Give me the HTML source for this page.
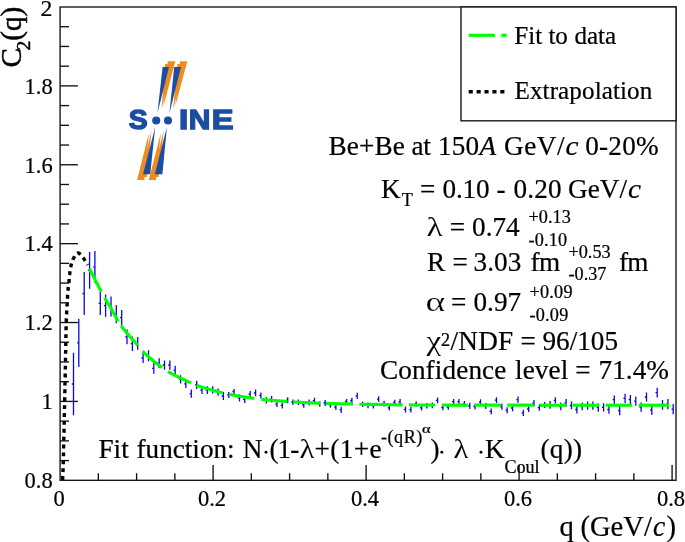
<!DOCTYPE html>
<html><head><meta charset="utf-8"><title>C2(q)</title>
<style>
html,body{margin:0;padding:0;background:#fff;}
body{width:685px;height:542px;overflow:hidden;}
svg{display:block;will-change:transform;}
text{font-family:"Liberation Serif",serif;fill:#000;stroke:#000;stroke-width:0.22px;}
.t{font-size:27.2px;}
.s{font-size:18.2px;}
.ss{font-size:12.2px;}
.ti{font-size:28.6px;}
.lg{font-size:25.1px;}
.it{font-style:italic;}
.ax text{font-size:22.5px;}
.logo text{font-family:"Liberation Sans",sans-serif;font-weight:bold;fill:#1b4ea2;stroke:#1b4ea2;stroke-width:1.35px;}
</style></head><body>
<svg width="685" height="542" viewBox="0 0 685 542">
<rect width="685" height="542" fill="#fff"/>
<!-- error bars -->
<path d="M73.5 352.8V415.2M71.8 384.0h1.7M78.8 318.7V367.0M77.1 342.9h1.7M84.2 272.0V315.0M82.5 293.5h1.7M89.6 252.0V288.7M87.9 270.4h1.7M94.9 250.9V282.6M93.2 266.8h1.7M100.3 291.8V315.0M98.6 303.4h1.7M105.6 294.6V316.8M103.9 305.7h1.7M111.0 296.6V316.6M109.3 306.6h1.7M116.3 305.0V323.2M114.6 314.1h1.7M121.7 310.0V325.4M120.0 317.7h1.7M127.0 329.4V344.2M125.3 336.8h1.7M132.4 336.5V350.9M130.7 343.7h1.7M137.7 337.0V349.8M136.0 343.4h1.7M143.1 353.0V363.0M141.4 358.0h1.7M148.5 350.2V361.3M146.8 355.8h1.7M153.8 363.0V373.7M152.1 368.4h1.7M159.2 358.2V368.0M157.5 363.1h1.7M164.5 360.4V369.7M162.8 365.0h1.7M169.9 360.4V369.7M168.2 365.0h1.7M175.2 365.7V374.6M173.5 370.1h1.7M180.6 375.2V383.4M178.9 379.3h1.7M185.9 379.7V387.9M184.2 383.8h1.7M191.3 389.6V397.8M189.6 393.7h1.7M196.7 380.8V389.0M195.0 384.9h1.7M202.0 386.3V394.0M200.3 390.1h1.7M207.4 386.3V394.0M205.7 390.1h1.7M212.7 386.3V393.6M211.0 390.0h1.7M218.1 388.5V395.8M216.4 392.1h1.7M223.4 392.0V400.0M221.7 396.0h1.7M228.8 391.9V398.0M227.1 394.9h1.7M234.1 388.9V394.2M232.4 391.5h1.7M239.5 394.5V401.5M237.8 398.0h1.7M244.8 396.3V403.0M243.1 399.6h1.7M250.2 391.0V397.2M248.5 394.1h1.7M255.6 389.6V396.3M253.9 393.0h1.7M260.9 392.4V398.4M259.2 395.4h1.7M266.3 397.2V403.6M264.6 400.4h1.7M271.6 396.0V402.4M269.9 399.2h1.7M277.0 401.2V407.1M275.3 404.1h1.7M282.3 402.4V408.5M280.6 405.4h1.7M287.7 397.2V403.3M286.0 400.2h1.7M293.0 399.4V405.0M291.3 402.2h1.7M298.4 399.4V405.0M296.7 402.2h1.7M303.8 402.0V407.7M302.1 404.9h1.7M309.1 399.4V405.4M307.4 402.4h1.7M314.5 397.7V403.6M312.8 400.6h1.7M319.8 401.2V406.8M318.1 404.0h1.7M325.2 400.1V405.9M323.5 403.0h1.7M330.5 401.9V407.7M328.8 404.8h1.7M335.9 404.2V410.0M334.2 407.1h1.7M341.2 406.8V412.9M339.5 409.9h1.7M346.6 398.9V404.2M344.9 401.5h1.7M351.9 397.7V403.3M350.2 400.5h1.7M357.3 392.8V398.9M355.6 395.9h1.7M362.7 401.5V407.1M361.0 404.3h1.7M368.0 402.4V408.2M366.3 405.3h1.7M373.4 402.9V408.5M371.7 405.7h1.7M378.7 396.3V402.1M377.0 399.2h1.7M384.1 400.7V406.4M382.4 403.5h1.7M389.4 405.0V410.6M387.7 407.8h1.7M394.8 399.8V405.0M393.1 402.4h1.7M400.1 398.9V404.7M398.4 401.8h1.7M405.5 406.4V412.4M403.8 409.4h1.7M410.9 406.8V412.4M409.2 409.6h1.7M416.2 401.2V406.8M414.5 404.0h1.7M421.6 405.0V410.6M419.9 407.8h1.7M426.9 402.9V408.5M425.2 405.7h1.7M432.3 402.4V408.2M430.6 405.3h1.7M437.6 397.4V403.2M435.9 400.3h1.7M443.0 404.7V410.3M441.3 407.5h1.7M448.3 404.2V409.8M446.6 407.0h1.7M453.7 398.9V404.5M452.0 401.7h1.7M459.0 398.9V404.5M457.3 401.7h1.7M464.4 401.0V406.6M462.7 403.8h1.7M469.8 402.8V408.9M468.1 405.9h1.7M475.1 403.7V409.4M473.4 406.5h1.7M480.5 399.3V404.9M478.8 402.1h1.7M485.8 403.1V408.9M484.1 406.0h1.7M491.2 408.4V414.2M489.5 411.3h1.7M496.5 397.2V403.1M494.8 400.1h1.7M501.9 403.7V409.8M500.2 406.8h1.7M507.2 407.2V413.3M505.5 410.2h1.7M512.6 404.9V411.2M510.9 408.0h1.7M518.0 396.6V402.8M516.3 399.7h1.7M523.3 409.8V415.9M521.6 412.9h1.7M528.7 405.9V412.1M527.0 409.0h1.7M534.0 400.1V406.3M532.3 403.2h1.7M539.4 404.5V410.7M537.7 407.6h1.7M544.7 401.9V408.0M543.0 404.9h1.7M550.1 401.0V408.8M548.4 404.9h1.7M555.4 397.2V403.6M553.7 400.4h1.7M560.8 402.6V410.2M559.1 406.4h1.7M566.1 399.1V406.7M564.4 402.9h1.7M571.5 401.6V409.3M569.8 405.5h1.7M576.9 405.7V413.4M575.2 409.5h1.7M582.2 402.6V410.2M580.5 406.4h1.7M587.6 401.6V409.7M585.9 405.6h1.7M592.9 401.6V409.7M591.2 405.6h1.7M598.3 403.6V411.8M596.6 407.7h1.7M603.6 403.2V411.4M601.9 407.3h1.7M609.0 405.2V413.8M607.3 409.5h1.7M614.3 395.4V404.0M612.6 399.7h1.7M619.7 406.1V415.3M618.0 410.7h1.7M625.1 393.8V403.0M623.4 398.4h1.7M630.4 395.0V404.0M628.7 399.5h1.7M635.8 396.5V405.7M634.1 401.1h1.7M641.1 402.6V411.8M639.4 407.2h1.7M646.5 392.4V401.6M644.8 397.0h1.7M651.8 405.2V414.9M650.1 410.0h1.7M657.2 387.7V397.5M655.5 392.6h1.7M662.5 399.9V409.7M660.8 404.8h1.7M667.9 399.1V409.3M666.2 404.2h1.7M673.2 404.0V414.2M671.5 409.1h1.7" stroke="#0808e6" stroke-width="1.3" fill="none"/>
<!-- fit -->
<g fill="none" stroke="#00ff00" stroke-width="3.15">
<polyline points="89.5,268.7 89.9,269.5 90.3,270.2 90.7,271.0 91.1,271.8 91.5,272.6 91.9,273.4 92.3,274.2 92.7,275.0 93.1,275.8 93.5,276.6 93.9,277.4 94.3,278.2 94.7,279.0 95.1,279.8 95.5,280.6 95.9,281.4 96.3,282.2 96.7,283.0 97.1,283.7 97.6,284.5 98.0,285.3 98.4,286.1 98.8,286.9 99.2,287.7 99.6,288.5 100.1,289.3 100.5,290.0 100.9,290.8 101.3,291.6"/>
<polyline points="104.6,297.6 105.1,298.4 105.5,299.2 106.0,299.9 106.4,300.7 106.9,301.5 107.4,302.2 107.8,303.0 108.3,303.7 108.7,304.5 109.2,305.3 109.7,306.0 110.1,306.8 110.6,307.6 111.0,308.3 111.4,309.1 111.9,309.9 112.3,310.7 112.8,311.5 113.2,312.2 113.6,313.0 114.0,313.8 114.5,314.6 114.9,315.4 115.3,316.2 115.8,316.9 116.2,317.7 116.6,318.5 117.1,319.3 117.5,320.0 118.0,320.8 118.2,321.2"/>
<polyline points="121.1,325.6 121.6,326.3 122.1,327.1 122.6,327.8 123.2,328.5 123.7,329.2 124.3,329.9 124.8,330.5 125.4,331.2 125.9,331.9 126.5,332.6 127.1,333.3 127.7,333.9 128.3,334.6 128.9,335.3 129.4,336.0 130.0,336.6 130.6,337.3 131.2,338.0 131.8,338.6 132.4,339.3 133.0,340.0 133.6,340.6 134.2,341.3 134.8,342.0 135.4,342.6 136.0,343.3 136.6,344.0 137.1,344.6 137.7,345.3"/>
<polyline points="142.6,351.1 143.2,351.7 143.8,352.4 144.5,353.0 145.1,353.6 145.7,354.2 146.4,354.8 147.0,355.4 147.7,356.0 148.4,356.6 149.0,357.2 149.7,357.8 150.4,358.4 151.1,358.9 151.8,359.5 152.4,360.1 153.1,360.6 153.8,361.2 154.5,361.8 155.2,362.3 155.9,362.9 156.6,363.4 157.3,364.0 158.1,364.5 158.8,365.1 159.5,365.6 160.2,366.1 160.9,366.7 161.6,367.2 162.1,367.6"/>
<polyline points="168.0,371.6 168.8,372.1 169.5,372.5 170.3,372.9 171.1,373.4 171.9,373.8 172.6,374.2 173.4,374.6 174.2,375.0 175.0,375.4 175.8,375.8 176.6,376.2 177.4,376.6 178.2,377.0 179.0,377.4 179.8,377.8 180.6,378.1 181.4,378.5 182.2,378.9 183.1,379.3 183.9,379.6 184.7,380.0 185.5,380.4 186.3,380.8 187.1,381.1 187.9,381.5 188.7,381.9 189.5,382.2 190.4,382.6 191.0,382.9"/>
<polyline points="196.5,385.3 197.3,385.6 198.1,385.9 199.0,386.1 199.8,386.4 200.7,386.7 201.5,387.0 202.3,387.3 203.2,387.5 204.0,387.8 204.9,388.0 205.7,388.3 206.6,388.5 207.4,388.8 208.3,389.0 209.2,389.3 210.0,389.5 210.9,389.8 211.7,390.0 212.6,390.2 213.5,390.5 214.3,390.7 215.2,390.9 216.1,391.1 216.9,391.4 217.8,391.6 218.6,391.8 219.5,392.0 220.4,392.3 221.2,392.5 222.1,392.7 223.0,392.9"/>
<polyline points="229.0,394.3 229.9,394.5 230.8,394.7 231.6,394.8 232.5,395.0 233.4,395.2 234.2,395.3 235.1,395.5 236.0,395.6 236.9,395.8 237.8,395.9 238.6,396.1 239.5,396.2 240.4,396.4 241.3,396.5 242.1,396.6 243.0,396.8 243.9,396.9 244.8,397.0 245.7,397.2 246.5,397.3 247.4,397.4 248.3,397.6 249.2,397.7 250.1,397.8 251.0,397.9 251.8,398.1 252.7,398.2 253.6,398.3 254.3,398.4"/>
<polyline points="261.3,399.3 262.2,399.4 263.1,399.5 264.0,399.6 264.8,399.7 265.7,399.8 266.6,399.8 267.5,399.9 268.4,400.0 269.3,400.1 270.2,400.2 271.0,400.2 271.9,400.3 272.8,400.4 273.7,400.5 274.6,400.5 275.5,400.6 276.4,400.7 277.3,400.7 278.1,400.8 279.0,400.9 279.9,400.9 280.8,401.0 281.7,401.1 282.6,401.1 283.5,401.2 284.3,401.3 285.2,401.3 286.1,401.4 287.0,401.5 287.5,401.5"/>
<polyline points="293.2,401.9 294.1,402.0 295.0,402.0 295.9,402.1 296.8,402.1 297.7,402.2 298.5,402.2 299.4,402.3 300.3,402.3 301.2,402.4 302.1,402.4 303.0,402.5 303.9,402.5 304.8,402.5 305.6,402.6 306.5,402.6 307.4,402.7 308.3,402.7 309.2,402.8 310.1,402.8 311.0,402.8 311.9,402.9 312.8,402.9 313.6,403.0 314.5,403.0 315.4,403.0 316.3,403.1 317.2,403.1 318.1,403.1 319.0,403.2 319.9,403.2 320.1,403.2"/>
<polyline points="326.1,403.4 327.0,403.4 327.9,403.4 328.8,403.5 329.6,403.5 330.5,403.5 331.4,403.5 332.3,403.6 333.2,403.6 334.1,403.6 335.0,403.6 335.9,403.6 336.8,403.7 337.6,403.7 338.5,403.7 339.4,403.7 340.3,403.7 341.2,403.8 342.1,403.8 343.0,403.8 343.9,403.8 344.8,403.8 345.6,403.9 346.5,403.9 347.4,403.9 348.3,403.9 349.2,403.9 350.1,403.9 351.0,404.0 351.9,404.0 352.8,404.0 353.0,404.0"/>
<polyline points="359.4,404.1 360.3,404.2 361.2,404.2 362.1,404.2 363.0,404.2 363.9,404.2 364.8,404.2 365.7,404.3 366.5,404.3 367.4,404.3 368.3,404.3 369.2,404.3 370.1,404.3 371.0,404.4 371.9,404.4 372.8,404.4 373.7,404.4 374.5,404.4 375.4,404.4 376.3,404.4 377.2,404.5 378.1,404.5 379.0,404.5 379.9,404.5 380.8,404.5 381.7,404.5 382.5,404.5 383.4,404.6 384.3,404.6 385.2,404.6 386.1,404.6 387.0,404.6 387.9,404.6 388.8,404.6 389.7,404.7 390.5,404.7 391.4,404.7 392.3,404.7 393.2,404.7 394.1,404.7 395.0,404.7 395.9,404.8 396.8,404.8 397.7,404.8 398.5,404.8 399.4,404.8 400.3,404.8 401.2,404.8 402.1,404.8 402.6,404.8"/>
<polyline points="409.0,404.9 409.9,404.9 410.8,404.9 411.7,405.0 412.6,405.0 413.4,405.0 414.3,405.0 415.2,405.0 416.1,405.0 417.0,405.0 417.9,405.0 418.8,405.0 419.7,405.0 420.6,405.0 421.4,405.0 422.3,405.0 423.2,405.0 424.1,405.0 425.0,405.0 425.9,405.0 426.8,405.0 427.7,405.0 428.6,405.0 429.5,405.0 430.3,405.0 431.2,405.0 432.1,405.0 433.0,405.0 433.9,405.0 434.8,405.0 435.0,405.0"/>
<polyline points="442.1,405.0 443.0,405.0 443.9,405.0 444.8,405.0 445.7,405.0 446.6,405.0 447.5,405.0 448.3,405.1 449.2,405.1 450.1,405.1 451.0,405.1 451.9,405.1 452.8,405.1 453.7,405.1 454.6,405.1 455.5,405.1 456.4,405.1 457.2,405.1 458.1,405.1 459.0,405.1 459.9,405.1 460.8,405.1 461.7,405.1 462.6,405.1 463.5,405.1 464.4,405.1 465.2,405.1 466.1,405.1 467.0,405.1 467.9,405.1"/>
<polyline points="474.6,405.1 475.5,405.1 476.4,405.1 477.2,405.1 478.1,405.1 479.0,405.1 479.9,405.1 480.8,405.1 481.7,405.1 482.6,405.1 483.5,405.1 484.4,405.1 485.3,405.1 486.1,405.1 487.0,405.1 487.9,405.1 488.8,405.1 489.7,405.1 490.6,405.1 491.5,405.1 492.4,405.1 493.3,405.1 494.1,405.1 495.0,405.1 495.9,405.1 496.8,405.1 497.7,405.1 498.6,405.1 499.5,405.1 500.4,405.1 501.3,405.1"/>
<polyline points="507.3,405.1 508.2,405.1 509.0,405.1 509.9,405.1 510.8,405.1 511.7,405.1 512.6,405.1 513.5,405.1 514.4,405.1 515.3,405.1 516.2,405.1 517.0,405.1 517.9,405.1 518.8,405.1 519.7,405.1 520.6,405.1 521.5,405.1 522.4,405.1 523.3,405.1 524.2,405.1 525.0,405.1 525.9,405.1 526.8,405.1 527.7,405.1 528.6,405.1 529.5,405.1 530.4,405.1 531.3,405.1 532.2,405.1 533.1,405.1 533.7,405.1"/>
<polyline points="539.7,405.2 540.6,405.2 541.5,405.2 542.4,405.2 543.3,405.2 544.2,405.2 545.1,405.2 545.9,405.2 546.8,405.2 547.7,405.2 548.6,405.2 549.5,405.2 550.4,405.2 551.3,405.2 552.2,405.2 553.1,405.2 553.9,405.2 554.8,405.2 555.7,405.2 556.6,405.2 557.5,405.2 558.4,405.2 559.3,405.2 560.2,405.2 561.1,405.2 562.0,405.2 562.8,405.2 563.7,405.2 564.6,405.2 565.5,405.2 566.4,405.2 566.6,405.2"/>
<polyline points="572.6,405.2 573.5,405.2 574.4,405.2 575.3,405.2 576.2,405.2 577.1,405.2 578.0,405.2 578.8,405.2 579.7,405.2 580.6,405.2 581.5,405.2 582.4,405.2 583.3,405.2 584.2,405.2 585.1,405.2 586.0,405.2 586.9,405.2 587.7,405.2 588.6,405.2 589.5,405.2 590.4,405.2 591.3,405.2 592.2,405.2 593.1,405.2 594.0,405.2 594.9,405.2 595.7,405.2 596.6,405.2 597.5,405.2 598.4,405.2 599.3,405.2"/>
<polyline points="605.7,405.2 606.6,405.2 607.5,405.2 608.4,405.2 609.3,405.2 610.2,405.2 611.1,405.2 612.0,405.2 612.9,405.2 613.8,405.2 614.6,405.2 615.5,405.2 616.4,405.2 617.3,405.2 618.2,405.2 619.1,405.2 620.0,405.2 620.9,405.2 621.8,405.2 622.6,405.2 623.5,405.2 624.4,405.2 625.3,405.2 626.2,405.2 627.1,405.2 628.0,405.2 628.9,405.2 629.8,405.2 630.6,405.2 631.5,405.2 632.0,405.2"/>
<polyline points="638.7,405.2 639.5,405.2 640.4,405.2 641.3,405.2 642.2,405.2 643.1,405.2 644.0,405.2 644.9,405.2 645.8,405.2 646.7,405.2 647.5,405.2 648.4,405.2 649.3,405.2 650.2,405.2 651.1,405.2 652.0,405.2 652.9,405.2 653.8,405.2 654.7,405.2 655.5,405.2 656.4,405.2 657.3,405.2 658.2,405.2 659.1,405.2 660.0,405.2 660.9,405.2 661.8,405.2 662.7,405.2 663.6,405.2 664.4,405.2 665.3,405.2 666.2,405.2 667.1,405.2 668.0,405.2 668.9,405.2 669.1,405.2"/>
</g>
<g fill="none" stroke="#000" stroke-width="3.4" stroke-dasharray="3.9 4.0">
<polyline points="62.6,480.0 62.6,479.3 62.7,478.7 62.7,478.0 62.7,477.3 62.7,476.7 62.8,476.0 62.8,475.3 62.8,474.7 62.9,474.0 62.9,473.3 62.9,472.7 62.9,472.0 63.0,471.3 63.0,470.7 63.0,470.0 63.1,469.3 63.1,468.7 63.1,468.0 63.1,467.3 63.1,466.7 63.2,466.0 63.2,465.3 63.2,464.7 63.2,464.0 63.2,463.3 63.3,462.7 63.3,462.0 63.3,461.3 63.3,460.7 63.3,460.0 63.4,459.3 63.4,458.7 63.4,458.0 63.4,457.3 63.4,456.7 63.4,456.0 63.5,455.3 63.5,454.7 63.5,454.0 63.5,453.3 63.5,452.7 63.5,452.0 63.5,451.3 63.6,450.7 63.6,450.0 63.6,449.3 63.6,448.7 63.6,448.0 63.6,447.3 63.6,446.7 63.7,446.0 63.7,445.3 63.7,444.7 63.7,444.0 63.7,443.3 63.7,442.7 63.7,442.0 63.8,441.3 63.8,440.7 63.8,440.0 63.8,439.3 63.8,438.7 63.8,438.0 63.8,437.3 63.9,436.7 63.9,436.0 63.9,435.3 63.9,434.7 63.9,434.0 63.9,433.3 63.9,432.7 64.0,432.0 64.0,431.3 64.0,430.7 64.0,430.0 64.0,429.3 64.0,428.7 64.0,428.0 64.1,427.3 64.1,426.7 64.1,426.0 64.1,425.3 64.1,424.7 64.1,424.0 64.2,423.3 64.2,422.7 64.2,422.0 64.2,421.3 64.2,420.7 64.2,420.0 64.2,419.3 64.3,418.7 64.3,418.0 64.3,417.3 64.3,416.7 64.3,416.0 64.3,415.3 64.4,414.7 64.4,414.0 64.4,413.3 64.4,412.7 64.4,412.0 64.4,411.3 64.4,410.7 64.5,410.0 64.5,409.3 64.5,408.7 64.5,408.0 64.5,407.3 64.5,406.7 64.6,406.0 64.6,405.3 64.6,404.7 64.6,404.0 64.6,403.3 64.6,402.7 64.6,402.0 64.7,401.3 64.7,400.7 64.7,400.0 64.7,399.3 64.7,398.7 64.7,398.0 64.7,397.3 64.8,396.7 64.8,396.0 64.8,395.3 64.8,394.7 64.8,394.0 64.8,393.3 64.8,392.7 64.9,392.0 64.9,391.3 64.9,390.7 64.9,390.0 64.9,389.3 64.9,388.7 64.9,388.0 65.0,387.3 65.0,386.7 65.0,386.0 65.0,385.3 65.0,384.7 65.0,384.0 65.0,383.3 65.1,382.7 65.1,382.0 65.1,381.3 65.1,380.7 65.1,380.0 65.1,379.3 65.1,378.7 65.1,378.0 65.2,377.3 65.2,376.7 65.2,376.0 65.2,375.3 65.2,374.7 65.2,374.0 65.2,373.3 65.3,372.7 65.3,372.0 65.3,371.3 65.3,370.7 65.3,370.0 65.3,369.3 65.3,368.7 65.3,368.0 65.4,367.3 65.4,366.7 65.4,366.0 65.4,365.3 65.4,364.7 65.4,364.0 65.4,363.3 65.4,362.7 65.5,362.0 65.5,361.3 65.5,360.7 65.5,360.0 65.5,359.3 65.5,358.7 65.5,358.0 65.6,357.3 65.6,356.7 65.6,356.0 65.6,355.3 65.6,354.7 65.6,354.0 65.6,353.3 65.6,352.7 65.7,352.0 65.7,351.3 65.7,350.6 65.7,350.0 65.7,349.3 65.7,348.6 65.7,348.0 65.7,347.3 65.8,346.6 65.8,346.0 65.8,345.3 65.8,344.6 65.8,344.0 65.8,343.3 65.8,342.6 65.8,342.0 65.8,341.3 65.9,340.6 65.9,340.0 65.9,339.3 65.9,338.6 65.9,338.0 65.9,337.3 65.9,336.6 65.9,336.0 65.9,335.3 66.0,334.6 66.0,334.0 66.0,333.3 66.0,332.6 66.0,332.0 66.0,331.3 66.0,330.6 66.0,330.0 66.1,329.3 66.1,328.6 66.1,328.0 66.1,327.3 66.1,326.6 66.1,326.0 66.2,325.3 66.2,324.6 66.2,324.0 66.2,323.3 66.2,322.6 66.2,322.0 66.3,321.3 66.3,320.6 66.3,320.0 66.3,319.3 66.3,318.6 66.4,318.0 66.4,317.3 66.4,316.6 66.5,316.0 66.5,315.3 66.5,314.6 66.6,314.0 66.6,313.3 66.6,312.6 66.7,312.0 66.7,311.3 66.7,310.6 66.8,310.0 66.8,309.3 66.9,308.7 66.9,308.0 67.0,307.3 67.0,306.7 67.0,306.0 67.1,305.3 67.1,304.7 67.2,304.0 67.2,303.3 67.2,302.7 67.3,302.0 67.3,301.3 67.3,300.7 67.4,300.0 67.4,299.3 67.4,298.7 67.5,298.0 67.5,297.3 67.6,296.7 67.6,296.0 67.6,295.3 67.7,294.7 67.7,294.0 67.8,293.3 67.8,292.7 67.9,292.0 67.9,291.3 68.0,290.7 68.1,290.0 68.1,289.4 68.2,288.7 68.2,288.0 68.3,287.4 68.4,286.7 68.5,286.0 68.5,285.4 68.6,284.7 68.7,284.0 68.8,283.4 68.9,282.7 68.9,282.1 69.0,281.4 69.1,280.7 69.1,280.1 69.2,279.4 69.2,278.7 69.3,278.1 69.4,277.4 69.4,276.7 69.5,276.1 69.5,275.4 69.6,274.8 69.7,274.1 69.8,273.4 69.8,272.8 69.9,272.1 70.0,271.4 70.1,270.8 70.2,270.1 70.3,269.5 70.4,268.8 70.5,268.1 70.6,267.5 70.8,266.8 70.9,266.2 71.0,265.5 71.2,264.9 71.4,264.2 71.5,263.6 71.7,262.9 71.9,262.3 72.1,261.6 72.4,261.0 72.6,260.3 72.8,259.7 73.1,259.1 73.4,258.6 73.7,258.0 74.0,257.3 74.4,256.6 74.8,255.9 75.2,255.3 75.7,254.6 76.1,254.1 76.6,253.6 77.1,253.3 77.5,253.1 78.0,253.0 78.5,253.1 79.0,253.3 79.5,253.7 80.0,254.1 80.5,254.6 81.0,255.2 81.5,255.8 82.0,256.4 82.5,257.0 83.0,257.6 83.4,258.1 83.8,258.6 84.2,259.2 84.5,259.7 84.9,260.3 85.2,260.8 85.6,261.4 85.9,262.0 86.3,262.6 86.6,263.2 86.9,263.8 87.2,264.3 87.6,264.9 87.7,265.1"/>
</g>
<!-- frame -->
<rect x="60.1" y="7.0" width="615.9" height="473.3" fill="none" stroke="#111" stroke-width="1.35"/>
<g stroke="#111" stroke-width="1.35">
<line x1="60.1" y1="460.58" x2="69.0" y2="460.58"/>
<line x1="60.1" y1="440.86" x2="69.0" y2="440.86"/>
<line x1="60.1" y1="421.14" x2="69.0" y2="421.14"/>
<line x1="60.1" y1="401.42" x2="77.9" y2="401.42"/>
<line x1="60.1" y1="381.70" x2="69.0" y2="381.70"/>
<line x1="60.1" y1="361.97" x2="69.0" y2="361.97"/>
<line x1="60.1" y1="342.25" x2="69.0" y2="342.25"/>
<line x1="60.1" y1="322.53" x2="77.9" y2="322.53"/>
<line x1="60.1" y1="302.81" x2="69.0" y2="302.81"/>
<line x1="60.1" y1="283.09" x2="69.0" y2="283.09"/>
<line x1="60.1" y1="263.37" x2="69.0" y2="263.37"/>
<line x1="60.1" y1="243.65" x2="77.9" y2="243.65"/>
<line x1="60.1" y1="223.93" x2="69.0" y2="223.93"/>
<line x1="60.1" y1="204.21" x2="69.0" y2="204.21"/>
<line x1="60.1" y1="184.49" x2="69.0" y2="184.49"/>
<line x1="60.1" y1="164.77" x2="77.9" y2="164.77"/>
<line x1="60.1" y1="145.05" x2="69.0" y2="145.05"/>
<line x1="60.1" y1="125.32" x2="69.0" y2="125.32"/>
<line x1="60.1" y1="105.60" x2="69.0" y2="105.60"/>
<line x1="60.1" y1="85.88" x2="77.9" y2="85.88"/>
<line x1="60.1" y1="66.16" x2="69.0" y2="66.16"/>
<line x1="60.1" y1="46.44" x2="69.0" y2="46.44"/>
<line x1="60.1" y1="26.72" x2="69.0" y2="26.72"/>
<line x1="98.35" y1="480.3" x2="98.35" y2="473.2"/>
<line x1="136.60" y1="480.3" x2="136.60" y2="473.2"/>
<line x1="174.85" y1="480.3" x2="174.85" y2="473.2"/>
<line x1="213.10" y1="480.3" x2="213.10" y2="465.0"/>
<line x1="251.35" y1="480.3" x2="251.35" y2="473.2"/>
<line x1="289.60" y1="480.3" x2="289.60" y2="473.2"/>
<line x1="327.85" y1="480.3" x2="327.85" y2="473.2"/>
<line x1="366.10" y1="480.3" x2="366.10" y2="465.0"/>
<line x1="404.35" y1="480.3" x2="404.35" y2="473.2"/>
<line x1="442.60" y1="480.3" x2="442.60" y2="473.2"/>
<line x1="480.85" y1="480.3" x2="480.85" y2="473.2"/>
<line x1="519.10" y1="480.3" x2="519.10" y2="465.0"/>
<line x1="557.35" y1="480.3" x2="557.35" y2="473.2"/>
<line x1="595.60" y1="480.3" x2="595.60" y2="473.2"/>
<line x1="633.85" y1="480.3" x2="633.85" y2="473.2"/>
<line x1="672.10" y1="480.3" x2="672.10" y2="465.0"/>
</g>
<g class="ax">
<text x="52.3" y="16.0" text-anchor="end" style="font-size:23.8px">2</text>
<text x="52.7" y="93.6" text-anchor="end">1.8</text>
<text x="52.7" y="172.5" text-anchor="end">1.6</text>
<text x="52.7" y="251.4" text-anchor="end">1.4</text>
<text x="52.7" y="330.2" text-anchor="end">1.2</text>
<text x="52.7" y="409.1" text-anchor="end">1</text>
<text x="52.7" y="488.0" text-anchor="end">0.8</text>
<text x="59.0" y="506" text-anchor="middle">0</text>
<text x="212.0" y="506" text-anchor="middle">0.2</text>
<text x="365.0" y="506" text-anchor="middle">0.4</text>
<text x="518.0" y="506" text-anchor="middle">0.6</text>
<text x="671.0" y="506" text-anchor="middle">0.8</text>
</g>
<!-- axis titles -->
<g transform="translate(20.5,67.6) rotate(-90)"><text x="0" y="0" style="font-size:29.2px;stroke-width:0.45px">C<tspan font-size="19.5px" dx="-2.3" dy="9.2">2</tspan><tspan dy="-9.2">(q)</tspan></text></g>
<!-- legend -->
<rect x="461" y="7.0" width="215.0" height="113.8" fill="#fff" stroke="#111" stroke-width="1.35"/>
<line x1="468.7" y1="35.3" x2="494.9" y2="35.3" stroke="#00ff00" stroke-width="3.2"/>
<line x1="501.4" y1="35.3" x2="506.7" y2="35.3" stroke="#00ff00" stroke-width="3.2"/>
<line x1="468.7" y1="91.8" x2="506" y2="91.8" stroke="#000" stroke-width="3.5" stroke-dasharray="4.1 3.8"/>
<!-- logo -->
<g class="logo">
<g fill="#ef8c20">
<polygon points="167.7,61.2 175.3,61.2 163.6,106"/>
<polygon points="165.2,64 172.3,64 161.5,109.5"/>
<polygon points="180,61.2 187.3,61.2 175.3,106"/>
<polygon points="177.4,64 184.5,64 173.1,109.5"/>
<polygon points="137.1,180.1 144.3,180.1 148.9,133"/>
<polygon points="140.3,177.1 146.9,177.1 151.5,130.5"/>
<polygon points="148.7,180.1 155.9,180.1 160.9,133"/>
<polygon points="151.9,177.1 158.7,177.1 163.7,130.5"/>
</g>
<g fill="#1b4ea2">
<polygon points="162.6,66.9 169,66.9 157.4,113.5"/>
<polygon points="174.2,66.9 181,66.9 169.4,113.5"/>
<polygon points="143.0,174.2 150.2,174.2 155.2,127"/>
<polygon points="154.8,174.2 162.4,174.2 166.9,127"/>
<circle cx="156.2" cy="120.5" r="4.05"/>
<circle cx="168.0" cy="120.5" r="4.05"/>
</g>
<g font-size="27px" text-anchor="middle">
<text transform="translate(138.2,129.3) scale(1.05,1)">S</text>
<text transform="translate(183.5,129.3) scale(1.23,1)">I</text>
<text transform="translate(199.5,129.3) scale(1.11,1)">N</text>
<text transform="translate(222.7,129.3) scale(1.21,1)">E</text>
</g>
</g>
<!-- annotations -->
<text class="t" x="328.50" y="155.0" style="letter-spacing:0.16px;">Be+Be</text>
<text class="t" x="411.50" y="155.0" style="letter-spacing:-0.34px;">at</text>
<text class="t" x="438.00" y="155.0" style="letter-spacing:0.20px;">150</text>
<text class="t it" x="479.40" y="155.0">A</text>
<text class="t" x="504.00" y="155.0" style="letter-spacing:0.55px;">GeV/</text>
<text class="t it" transform="translate(565.50,155.0) scale(1.075,1)">c</text>
<text class="t" x="585.30" y="155.0" style="letter-spacing:0.21px;">0-20%</text>
<text class="t" x="381.00" y="197.5">K</text>
<text class="s" x="401.70" y="205.5">T</text>
<text class="t" x="420.10" y="197.5">=</text>
<text class="t" x="442.50" y="197.5" style="letter-spacing:-0.19px;">0.10</text>
<text class="t" x="496.60" y="197.5">-</text>
<text class="t" x="513.50" y="197.5" style="letter-spacing:0.17px;">0.20</text>
<text class="t" x="568.00" y="197.5" style="letter-spacing:0.04px;">GeV/</text>
<text class="t it" transform="translate(628.00,197.5) scale(1.077,1)">c</text>
<text class="t" transform="translate(426.50,236.3) scale(1.230,1)" style="stroke:#fff;stroke-width:0.11px">λ</text>
<text class="t" x="449.70" y="236.3">=</text>
<text class="t" x="472.00" y="236.3" style="letter-spacing:0.04px;">0.74</text>
<text class="s" x="528.50" y="222.8" style="letter-spacing:0.05px;">+0.13</text>
<text class="s" x="528.50" y="246.0" style="letter-spacing:0.15px;">-0.10</text>
<text class="t" x="426.90" y="271.0">R</text>
<text class="t" x="452.60" y="271.0">=</text>
<text class="t" x="473.50" y="271.0" style="letter-spacing:0.11px;">3.03</text>
<text class="t" x="530.50" y="271.0" style="letter-spacing:-0.50px;">fm</text>
<text class="s" x="568.50" y="257.5">+0.53</text>
<text class="s" x="568.50" y="280.0">-0.37</text>
<text class="t" x="619.00" y="271.0" style="letter-spacing:-0.90px;">fm</text>
<text class="t" transform="translate(425.50,311.3) scale(1.375,1)" style="stroke:#fff;stroke-width:0.19px">α</text>
<text class="t" x="451.00" y="311.3">=</text>
<text class="t" x="473.50" y="311.3">0.97</text>
<text class="s" x="529.50" y="298.0" style="letter-spacing:0.23px;">+0.09</text>
<text class="s" x="529.50" y="321.2" style="letter-spacing:0.21px;">-0.09</text>
<text class="t" transform="translate(426.50,350.0) scale(1.216,1)" style="stroke:#fff;stroke-width:0.11px">χ</text>
<text class="s" x="440.90" y="346.0">2</text>
<text class="t" x="450.50" y="350.0" style="letter-spacing:0.26px;">/NDF</text>
<text class="t" x="520.40" y="350.0">=</text>
<text class="t" x="542.50" y="350.0" style="letter-spacing:-0.01px;">96/105</text>
<text class="t" x="379.90" y="379.0" style="letter-spacing:0.13px;">Confidence</text>
<text class="t" x="515.00" y="379.0" style="letter-spacing:0.12px;">level</text>
<text class="t" x="575.30" y="379.0">=</text>
<text class="t" x="598.50" y="379.0" style="letter-spacing:0.07px;">71.4%</text>
<text class="t" x="98.50" y="458.0">Fit</text>
<text class="t" x="136.50" y="458.0">function:</text>
<text class="t" x="242.80" y="458.0">N</text>
<text class="t" x="269.50" y="458.0" style="letter-spacing:-1.01px;">(1-</text>
<text class="t" transform="translate(299.50,458.0) scale(1.138,1)" style="stroke:#fff;stroke-width:0.07px">λ</text>
<text class="t" x="314.50" y="458.0" style="letter-spacing:0.41px;">+(1+e</text>
<text class="s" x="381.00" y="443.2" style="letter-spacing:0.49px;">-(qR)</text>
<text class="ss" transform="translate(422.00,432.7) scale(1.350,1)">α</text>
<text class="t" x="430.50" y="458.0">)</text>
<text class="t" transform="translate(453.50,458.0) scale(1.138,1)" style="stroke:#fff;stroke-width:0.07px">λ</text>
<text class="t" x="485.00" y="458.0">K</text>
<text class="s" x="504.50" y="473.1" style="letter-spacing:-0.08px;">Coul</text>
<text class="t" x="540.50" y="458.0" style="letter-spacing:0.30px;">(q))</text>
<text class="ti" x="559.50" y="535.6">q</text>
<text class="ti" x="580.50" y="535.6" style="letter-spacing:-0.03px;">(GeV/</text>
<text class="ti it" transform="translate(653.00,535.6) scale(0.965,1)">c</text>
<text class="ti" x="666.60" y="535.6">)</text>
<text class="lg" x="514.30" y="44.0">Fit</text>
<text class="lg" x="548.40" y="44.0">to</text>
<text class="lg" x="574.50" y="44.0" style="letter-spacing:-0.07px;">data</text>
<text class="lg" x="514.50" y="98.5" style="letter-spacing:0.10px;">Extrapolation</text>
<g fill="#000"><circle cx="266.0" cy="452.3" r="1.45"/><circle cx="441.8" cy="452.3" r="1.45"/><circle cx="481.0" cy="452.3" r="1.45"/></g>
</svg>
</body></html>
